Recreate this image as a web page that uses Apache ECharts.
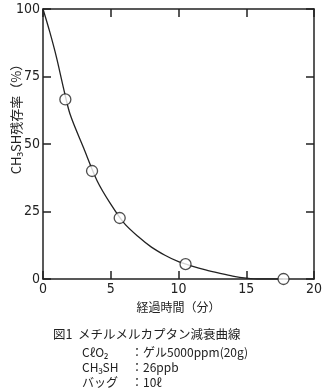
<!DOCTYPE html>
<html><head><meta charset="utf-8">
<script src="https://cdn.jsdelivr.net/npm/echarts@6/dist/echarts.min.js"></script>
<style>html,body{margin:0;padding:0;background:#fff}#c{width:333px;height:390px}</style>
</head><body><div id="c"></div>
<script>
// measured points (elapsed minutes, CH3SH remaining %)
const pointX = [1.65, 3.62, 5.66, 10.52, 17.75];
const pointY = [66.5, 40, 22.6, 5.5, 0];
// fitted curve
const curveX = [0, 0.5, 1, 1.5, 2, 3, 4, 5, 6, 7, 8, 9, 10, 11, 12, 13, 14, 15, 16, 17, 17.7];
const curveY = [100, 91.5, 82, 71, 61, 48.5, 36.3, 27.7, 20.6, 15.8, 11.8, 8.8, 6.4, 4.8, 3.4, 2.2, 1.1, 0.35, 0, 0, 0];
const xTicks = [0, 5, 10, 15, 20];
const yTicks = [0, 25, 50, 75, 100];
const xName = '経過時間（分）';
const yName = 'CH₃SH残存率（%）';
const caption = ['図1  メチルメルカプタン減衰曲線'];
const condLabels = ['CℓO₂', 'CH₃SH', 'バッグ'];
const condValues = ['：ゲル5000ppm(20g)', '：26ppb', '：10ℓ'];

const ink = '#222222';
const numFont = "'Liberation Sans Narrow','DejaVu Sans Condensed','Liberation Sans',sans-serif";
const jpFont = "'Noto Sans CJK JP','Noto Sans',sans-serif";
const chart = echarts.init(document.getElementById('c'), null, {renderer: 'canvas'});
function axisStyle(extra) {
  return Object.assign({
    axisLine: {show: true, onZero: false, lineStyle: {color: ink, width: 1.5}},
    axisTick: {show: true, inside: true, length: 8, lineStyle: {color: ink, width: 1.5}},
    splitLine: {show: false}
  }, extra);
}
const graphics = [
  {type: 'text', x: 16, y: 116, rotation: Math.PI / 2, style: {text: yName, font: '13px ' + jpFont, fill: ink, align: 'center', verticalAlign: 'middle'}},
  {type: 'text', x: 53, y: 334, style: {text: caption[0], font: '12.5px ' + jpFont, fill: ink, verticalAlign: 'middle'}}
];
condLabels.forEach((t, i) => {
  const y = 352 + i * 15;
  graphics.push({type: 'text', x: 82, y: y, style: {text: t, font: '12px ' + jpFont, fill: ink, verticalAlign: 'middle'}});
  graphics.push({type: 'text', x: 131, y: y, style: {text: condValues[i], font: '12px ' + jpFont, fill: ink, verticalAlign: 'middle'}});
});
chart.setOption({
  animation: false,
  grid: {left: 43, right: 19, top: 9, bottom: 111},
  xAxis: [
    axisStyle({type: 'value', min: xTicks[0], max: xTicks[xTicks.length - 1], interval: 5, position: 'bottom',
      axisLabel: {color: ink, fontSize: 14, fontFamily: numFont, margin: 3},
      name: xName, nameLocation: 'middle', nameGap: 22,
      nameTextStyle: {color: ink, fontSize: 12, fontFamily: jpFont}}),
    axisStyle({type: 'value', min: 0, max: 20, interval: 5, position: 'top', axisLabel: {show: false}})
  ],
  yAxis: [
    axisStyle({type: 'value', min: yTicks[0], max: yTicks[yTicks.length - 1], interval: 25, position: 'left',
      axisLabel: {color: ink, fontSize: 14, fontFamily: numFont, margin: 3}}),
    axisStyle({type: 'value', min: 0, max: 100, interval: 25, position: 'right', axisLabel: {show: false}})
  ],
  graphic: graphics,
  series: [
    {type: 'line', data: curveX.map((x, i) => [x, curveY[i]]), smooth: 0.3,
      showSymbol: false, symbol: 'none', lineStyle: {color: ink, width: 1.3}, z: 2},
    {type: 'scatter', data: pointX.map((x, i) => [x, pointY[i]]), symbol: 'circle', symbolSize: 11,
      itemStyle: {color: '#fff', borderColor: ink, borderWidth: 1.3}, z: 3}
  ]
});
</script></body></html>
